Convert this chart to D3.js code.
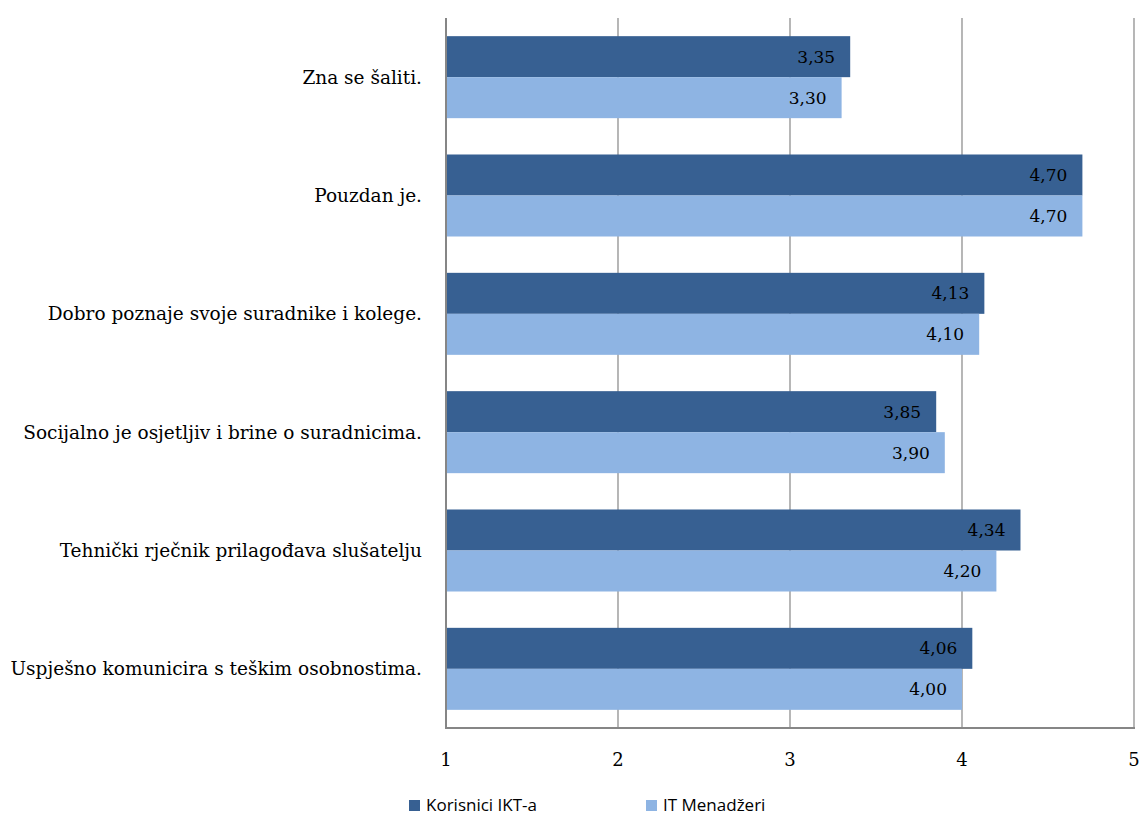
<!DOCTYPE html>
<html><head><meta charset="utf-8">
<script src="https://cdn.jsdelivr.net/npm/d3@7"></script>
<style>body{margin:0;background:#fff}</style>
</head><body>
<svg id="c" width="1141" height="817"></svg>
<script>
const categories = ["Zna se šaliti.","Pouzdan je.","Dobro poznaje svoje suradnike i kolege.","Socijalno je osjetljiv i brine o suradnicima.","Tehnički rječnik prilagođava slušatelju","Uspješno komunicira s teškim osobnostima."];
const seriesNames = ["Korisnici IKT-a","IT Menadžeri"];
const korisnici = [3.35,4.70,4.13,3.85,4.34,4.06];
const menadzeri = [3.30,4.70,4.10,3.90,4.20,4.00];
const ticks = [1,2,3,4,5];
const colors = ["#376092","#8EB4E3"];

const svg = d3.select("#c");
const pL=446, pR=1134, pT=18, pB=728;
const x = d3.scaleLinear().domain([1,5]).range([pL,pR]);
const y = d3.scaleBand().domain(categories).range([pT,pB]);
const yi = d3.scaleBand().domain(seriesNames).range([0,y.bandwidth()]).paddingOuter(0.443).paddingInner(0);
const serif = "'DejaVu Serif', serif";
const fmt = v => v.toFixed(2).replace(".",",");

// gridlines
svg.append("g").selectAll("line").data(ticks.slice(1)).join("line")
  .attr("x1",d=>x(d)).attr("x2",d=>x(d)).attr("y1",pT).attr("y2",pB)
  .attr("stroke","#868686").attr("stroke-width",1.2);

const data = categories.map((c,i)=>({c, vals:[korisnici[i],menadzeri[i]]}));
const g = svg.append("g").selectAll("g").data(data).join("g").attr("transform",d=>`translate(0,${y(d.c)})`);
g.selectAll("rect").data(d=>d.vals.map((v,j)=>({v,s:seriesNames[j],j}))).join("rect")
  .attr("x",x(1)).attr("y",d=>yi(d.s)).attr("width",d=>x(d.v)-x(1)).attr("height",yi.bandwidth())
  .attr("fill",d=>colors[d.j]);
g.selectAll("text").data(d=>d.vals.map((v,j)=>({v,s:seriesNames[j],j}))).join("text")
  .attr("x",d=>x(d.v)-15).attr("y",d=>yi(d.s)+yi.bandwidth()/2).attr("dy","0.35em")
  .attr("text-anchor","end").attr("font-family",serif).attr("font-size",17).attr("fill","#000")
  .text(d=>fmt(d.v));

// axes lines
svg.append("line").attr("x1",pL).attr("x2",pL).attr("y1",pT).attr("y2",pB+1).attr("stroke","#868686").attr("stroke-width",2);
svg.append("line").attr("x1",pL-1).attr("x2",pR+1).attr("y1",pB).attr("y2",pB).attr("stroke","#868686").attr("stroke-width",2);

// category labels
svg.append("g").selectAll("text").data(categories).join("text")
  .attr("x",pL-24).attr("y",d=>y(d)+y.bandwidth()/2).attr("dy","0.35em")
  .attr("text-anchor","end").attr("font-family",serif).attr("font-size",18.5).attr("fill","#000")
  .text(d=>d);

// tick labels
svg.append("g").selectAll("text").data(ticks).join("text")
  .attr("x",d=>x(d)).attr("y",766).attr("text-anchor","middle")
  .attr("font-family",serif).attr("font-size",18).attr("fill","#000").text(d=>d);

// legend
const legX=[409,646];
const lg = svg.append("g").selectAll("g").data(seriesNames).join("g").attr("transform",(d,i)=>`translate(${legX[i]},800)`);
lg.append("rect").attr("width",11).attr("height",11).attr("fill",(d,i)=>colors[i]);
lg.append("text").attr("x",17).attr("y",5).attr("dy","0.35em").attr("font-family","'Open Sans', sans-serif").attr("font-size",17).attr("fill","#000").text(d=>d);
</script>
</body></html>
